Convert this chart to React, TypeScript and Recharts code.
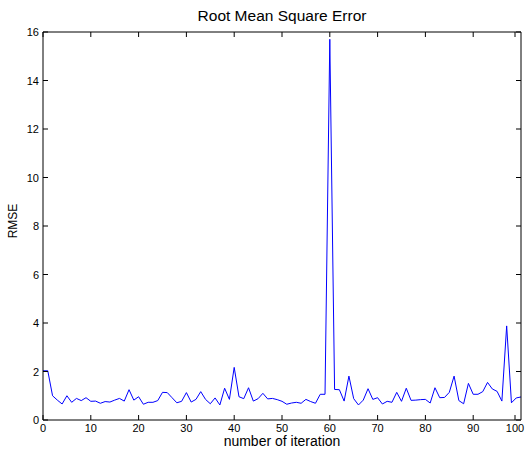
import React from "react";
import { LineChart, Line, XAxis, YAxis } from "recharts";

// RMSE per iteration (iterations 0..100)
const rmseValues = [
  2.03, 2.03, 1.0, 0.82, 0.66, 1.0, 0.73, 0.89, 0.8, 0.92,
  0.77, 0.78, 0.69, 0.76, 0.74, 0.82, 0.89, 0.78, 1.25, 0.82,
  0.96, 0.65, 0.73, 0.73, 0.8, 1.14, 1.13, 0.92, 0.71, 0.77,
  1.13, 0.74, 0.85, 1.17, 0.85, 0.67, 0.91, 0.62, 1.31, 0.85,
  2.17, 0.96, 0.88, 1.33, 0.78, 0.88, 1.1, 0.87, 0.89, 0.84,
  0.77, 0.65, 0.7, 0.73, 0.69, 0.85, 0.76, 0.69, 1.06, 1.06,
  15.7, 1.26, 1.25, 0.78, 1.81, 0.88, 0.62, 0.82, 1.29, 0.85,
  0.92, 0.66, 0.77, 0.73, 1.14, 0.77, 1.31, 0.81, 0.82, 0.84,
  0.85, 0.7, 1.33, 0.92, 0.93, 1.14, 1.81, 0.8, 0.67, 1.51,
  1.06, 1.06, 1.17, 1.55, 1.28, 1.18, 0.78, 3.88, 0.71, 0.91,
  0.95,
];
const xTicks = [0, 10, 20, 30, 40, 50, 60, 70, 80, 90, 100];
const yTicks = [0, 2, 4, 6, 8, 10, 12, 14, 16];

const data = rmseValues.map((v, i) => ({ iter: i, rmse: v }));

const FONT = "'Liberation Sans', Arial, Helvetica, sans-serif";
const TICK_LEN = 5;

// MATLAB-like inward ticks
const BottomTick = (p: any) => (
  <g>
    <line x1={p.x} y1={p.y} x2={p.x} y2={p.y - TICK_LEN} stroke="#000" />
    <text x={p.x} y={p.y + 12} textAnchor="middle" fontSize={11} fontFamily={FONT} fill="#000">
      {p.payload.value}
    </text>
  </g>
);
const TopTick = (p: any) => (
  <line x1={p.x} y1={p.y} x2={p.x} y2={p.y + TICK_LEN} stroke="#000" />
);
const LeftTick = (p: any) => (
  <g>
    <line x1={p.x} y1={p.y} x2={p.x + TICK_LEN} y2={p.y} stroke="#000" />
    <text x={p.x - 4} y={p.y + 4} textAnchor="end" fontSize={11} fontFamily={FONT} fill="#000">
      {p.payload.value}
    </text>
  </g>
);
const RightTick = (p: any) => (
  <line x1={p.x} y1={p.y} x2={p.x - TICK_LEN} y2={p.y} stroke="#000" />
);

export default function App() {
  return (
    <div style={{ position: "absolute", left: 0, top: 0, background: "#fff" }}>
      <LineChart
        width={527}
        height={450}
        data={data}
        margin={{ top: 31, right: 5, bottom: 0, left: 0 }}
      >
        <XAxis
          dataKey="iter"
          type="number"
          domain={[0, 100]}
          ticks={xTicks}
          height={30}
          tickSize={0}
          tickMargin={0}
          tickLine={false}
          tick={BottomTick}
          axisLine={{ stroke: "#000" }}
          label={({ viewBox }: any) => (
            <text
              x={viewBox.x + viewBox.width / 2}
              y={viewBox.y + 26}
              textAnchor="middle"
              fontSize={14}
              fontFamily={FONT}
              fill="#000"
            >
              number of iteration
            </text>
          )}
        />
        <XAxis
          xAxisId="top"
          orientation="top"
          dataKey="iter"
          type="number"
          domain={[0, 100]}
          ticks={xTicks}
          height={1}
          tickSize={0}
          tickMargin={0}
          tickLine={false}
          tick={TopTick}
          axisLine={{ stroke: "#000" }}
          label={({ viewBox }: any) => (
            <text
              x={viewBox.x + viewBox.width / 2}
              y={viewBox.y - 10}
              textAnchor="middle"
              fontSize={15.5}
              fontFamily={FONT}
              fill="#000"
            >
              Root Mean Square Error
            </text>
          )}
        />
        <YAxis
          type="number"
          domain={[0, 16]}
          ticks={yTicks}
          width={43}
          tickSize={0}
          tickMargin={0}
          tickLine={false}
          tick={LeftTick}
          axisLine={{ stroke: "#000" }}
          label={({ viewBox }: any) => {
            const lx = viewBox.x + 17;
            const ly = viewBox.y + viewBox.height / 2 - 5;
            return (
              <text
                x={lx}
                y={ly}
                textAnchor="middle"
                fontSize={12}
                fontFamily={FONT}
                fill="#000"
                transform={`rotate(-90, ${lx}, ${ly})`}
              >
                RMSE
              </text>
            );
          }}
        />
        <YAxis
          yAxisId="right"
          orientation="right"
          type="number"
          domain={[0, 16]}
          ticks={yTicks}
          width={1}
          tickSize={0}
          tickMargin={0}
          tickLine={false}
          tick={RightTick}
          axisLine={{ stroke: "#000" }}
        />
        <Line
          type="linear"
          dataKey="rmse"
          stroke="#0000ff"
          strokeWidth={1}
          dot={false}
          isAnimationActive={false}
        />
        {/* invisible twin so the mirrored frame axes get registered */}
        <Line
          xAxisId="top"
          yAxisId="right"
          type="linear"
          dataKey="rmse"
          stroke="none"
          dot={false}
          activeDot={false}
          legendType="none"
          isAnimationActive={false}
        />
      </LineChart>
    </div>
  );
}
